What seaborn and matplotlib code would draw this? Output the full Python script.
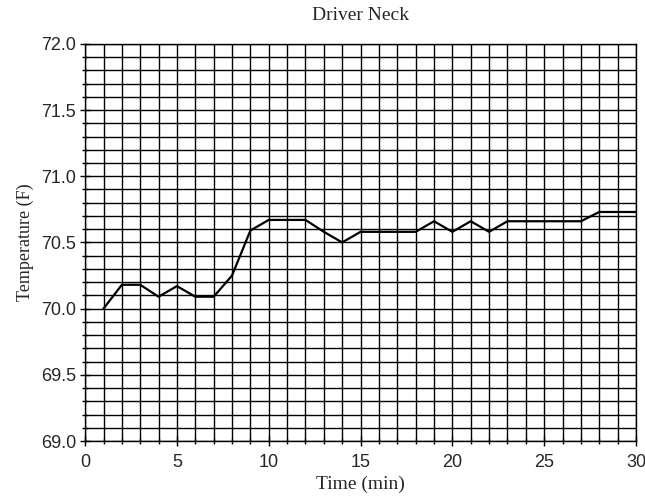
import numpy as np
import pandas as pd
import matplotlib
matplotlib.use("Agg")
import matplotlib.pyplot as plt
from matplotlib.ticker import MultipleLocator, FormatStrFormatter
import seaborn as sns

# values
time_min = [1, 2, 3, 4, 5, 6, 7, 8, 9, 10, 11, 12, 13, 14, 15,
            16, 17, 18, 19, 20, 21, 22, 23, 24, 25, 26, 27, 28, 29, 30]
temp_f = [70.00, 70.18, 70.18, 70.09, 70.17, 70.09, 70.09, 70.25, 70.59, 70.67,
          70.67, 70.67, 70.58, 70.50, 70.58, 70.58, 70.58, 70.58, 70.66, 70.58,
          70.66, 70.58, 70.66, 70.66, 70.66, 70.66, 70.66, 70.73, 70.73, 70.73]

df = pd.DataFrame({"Time (min)": time_min, "Temperature (F)": temp_f})

sns.set_style("ticks")
# tick numbers are sans, titles serif
plt.rcParams["font.family"] = ["Liberation Sans", "DejaVu Sans"]
serif = ["Liberation Serif", "DejaVu Serif"]

fig = plt.figure(figsize=(6.45, 5.04), dpi=100)
ax = fig.add_axes([0.132, 0.125, 0.854, 0.788])

sns.lineplot(data=df, x="Time (min)", y="Temperature (F)", ax=ax,
             color="black", linewidth=1.6, zorder=3)

ax.set_xlim(0, 30)
ax.set_ylim(69.0, 72.0)
ax.xaxis.set_major_locator(MultipleLocator(5))
ax.xaxis.set_minor_locator(MultipleLocator(1))
ax.yaxis.set_major_locator(MultipleLocator(0.5))
ax.yaxis.set_minor_locator(MultipleLocator(0.1))
ax.yaxis.set_major_formatter(FormatStrFormatter("%.1f"))

ax.grid(which="both", color="black", linewidth=1.0)
ax.set_axisbelow(True)
for s in ax.spines.values():
    s.set_color("black")
    s.set_linewidth(1.0)

ax.tick_params(which="major", direction="inout", length=7, width=1, color="black",
               labelsize=13, pad=3)
ax.tick_params(axis="x", which="major", pad=6)
ax.tick_params(which="minor", direction="inout", length=4, width=1, color="black")

ax.set_title("Driver Neck", family=serif, fontsize=14, pad=17)
ax.set_xlabel("Time (min)", family=serif, fontsize=14, labelpad=3)
ax.set_ylabel("Temperature (F)", family=serif, fontsize=13, labelpad=5)

fig.savefig("out.png", dpi=100)
